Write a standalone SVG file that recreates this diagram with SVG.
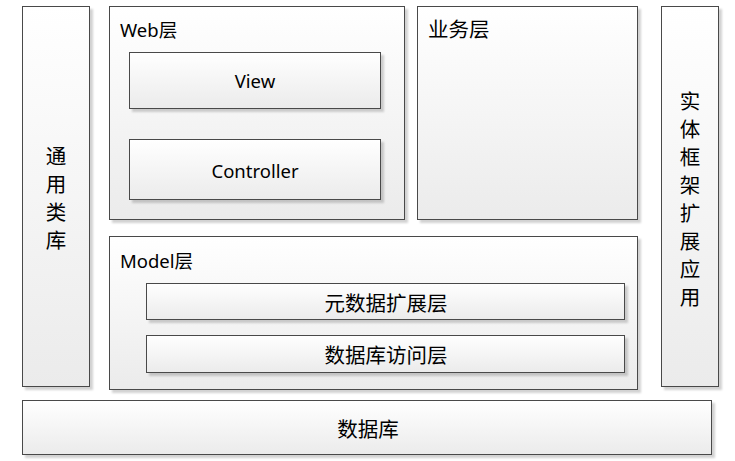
<svg xmlns="http://www.w3.org/2000/svg" width="735" height="461" viewBox="0 0 735 461">
<defs>
<linearGradient id="g" x1="0" y1="0" x2="0" y2="1">
<stop offset="0" stop-color="#ffffff"/>
<stop offset="1" stop-color="#ebebeb"/>
</linearGradient>
<filter id="sh" x="-10%" y="-10%" width="130%" height="130%">
<feGaussianBlur in="SourceAlpha" stdDeviation="1.2"/>
<feOffset dx="3" dy="3" result="o"/>
<feComponentTransfer><feFuncA type="linear" slope="0.18"/></feComponentTransfer>
<feMerge><feMergeNode/><feMergeNode in="SourceGraphic"/></feMerge>
</filter>
</defs>
<style>
.box{fill:url(#g);stroke:#4a4a4a;stroke-width:1;filter:url(#sh)}
.t{font-family:"Noto Sans","Noto Sans CJK SC",sans-serif;font-size:18.5px;fill:#000}
.c{font-family:"Noto Sans CJK SC",sans-serif;font-size:20.5px;fill:#000}
.m{text-anchor:middle;dominant-baseline:central}
</style>
<rect width="735" height="461" fill="#ffffff"/>
<g id="common-lib">
<rect class="box" x="22.5" y="6.5" width="67" height="380"/>
<text class="c m" x="56" y="155">通</text>
<text class="c m" x="56" y="183">用</text>
<text class="c m" x="56" y="211">类</text>
<text class="c m" x="56" y="239">库</text>
</g>
<g id="web-layer">
<rect class="box" x="109.5" y="6.5" width="295" height="213"/>
<text class="t" x="120" y="37">Web层</text>
</g>
<g id="view">
<rect class="box" x="129.5" y="52.5" width="251" height="56"/>
<text class="t m" x="255" y="80">View</text>
</g>
<g id="controller">
<rect class="box" x="129.5" y="139.5" width="251" height="60"/>
<text class="t m" x="255" y="170">Controller</text>
</g>
<g id="business-layer">
<rect class="box" x="417.5" y="6.5" width="220" height="213"/>
<text class="c" x="428" y="37">业务层</text>
</g>
<g id="entity-framework">
<rect class="box" x="661.5" y="6.5" width="57" height="380"/>
<text class="c m" x="690" y="100">实</text>
<text class="c m" x="690" y="128">体</text>
<text class="c m" x="690" y="156">框</text>
<text class="c m" x="690" y="184">架</text>
<text class="c m" x="690" y="212">扩</text>
<text class="c m" x="690" y="240">展</text>
<text class="c m" x="690" y="268">应</text>
<text class="c m" x="690" y="296">用</text>
</g>
<g id="model-layer">
<rect class="box" x="109.5" y="236.5" width="528" height="153"/>
<text class="t" x="120" y="268">Model层</text>
</g>
<g id="metadata-ext">
<rect class="box" x="146.5" y="283.5" width="478" height="36"/>
<text class="c m" x="386" y="302">元数据扩展层</text>
</g>
<g id="db-access">
<rect class="box" x="146.5" y="335.5" width="478" height="37"/>
<text class="c m" x="386" y="354">数据库访问层</text>
</g>
<g id="database">
<rect class="box" x="22.5" y="400.5" width="689" height="54"/>
<text class="c m" x="368" y="428">数据库</text>
</g>
<g id="connectors"></g>
</svg>
